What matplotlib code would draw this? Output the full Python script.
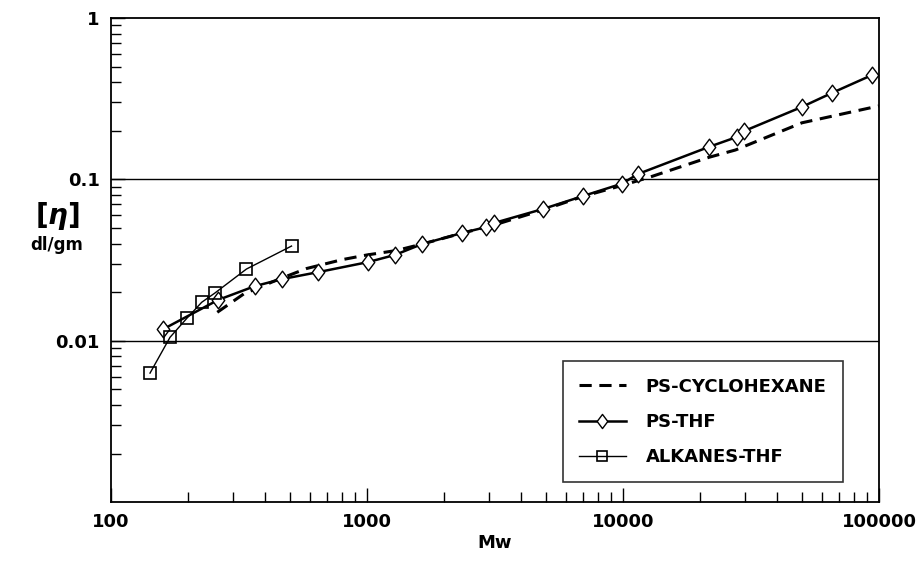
import numpy as np
import matplotlib
matplotlib.use("Agg")
import matplotlib.pyplot as plt
from matplotlib.path import Path

# PS in cyclohexane (theta solvent), smooth curve
ps_chx_mw = [260, 330, 445, 580, 800, 1000, 1300, 1640, 2400, 3000, 5000,
             7000, 10000, 12800, 21700, 27500, 50000, 100000]
ps_chx_eta = [0.0150, 0.0195, 0.0238, 0.0280, 0.0318, 0.0340, 0.0362, 0.0397,
              0.0468, 0.0510, 0.0655, 0.0785, 0.092, 0.1035, 0.137, 0.152,
              0.224, 0.285]

# PS in THF
ps_thf_mw = [160, 262, 365, 466, 644, 1009, 1285, 1640, 2350, 2920, 3130,
             4870, 6980, 9910, 11460, 21700, 27860, 29700, 50000, 65500, 94000]
ps_thf_eta = [0.0118, 0.0179, 0.0218, 0.0241, 0.0266, 0.0307, 0.0340, 0.0397,
              0.0465, 0.0506, 0.0536, 0.0655, 0.0788, 0.0940, 0.108, 0.159,
              0.183, 0.199, 0.281, 0.343, 0.443]

# n-alkanes in THF
alk_mw = [142, 170, 198, 226, 254, 338, 507]
alk_eta = [0.0063, 0.0105, 0.0138, 0.0173, 0.0197, 0.0278, 0.0386]

diamond = Path([(0, 1), (0.75, 0), (0, -1), (-0.75, 0), (0, 1)],
               [Path.MOVETO, Path.LINETO, Path.LINETO, Path.LINETO, Path.CLOSEPOLY])

plt.rcParams['font.family'] = 'DejaVu Sans'
plt.rcParams['font.weight'] = 'bold'

fig = plt.figure(figsize=(9.2, 5.61), dpi=100)
ax = fig.add_axes([0.1207, 0.105, 0.8347, 0.863])

ax.plot(ps_chx_mw, ps_chx_eta, color='black', lw=2.2, ls=(0, (4, 2.5)),
        label='PS-CYCLOHEXANE')
ax.plot(ps_thf_mw, ps_thf_eta, color='black', lw=1.8, marker=diamond,
        markersize=12, markerfacecolor='white', markeredgecolor='black',
        markeredgewidth=1.0, label='PS-THF')
ax.plot(alk_mw, alk_eta, color='black', lw=1.0, marker='s',
        markersize=9, markerfacecolor='none', markeredgecolor='black',
        markeredgewidth=1.2, label='ALKANES-THF')

ax.set_xscale('log')
ax.set_yscale('log')
ax.set_xlim(100, 100000)
ax.set_ylim(0.001, 1)

for v in [0.1, 0.01]:
    ax.axhline(v, color='black', lw=1.0, zorder=0)

ax.set_xticks([100, 1000, 10000, 100000])
ax.set_xticklabels(['100', '1000', '10000', '100000'])
ax.set_yticks([0.01, 0.1, 1])
ax.set_yticklabels(['0.01', '0.1', '1'])
ax.tick_params(which='both', direction='in', top=False, right=False,
               labelsize=13, width=1.0)
ax.tick_params(which='major', length=10, pad=8)
ax.tick_params(which='minor', length=7)
ax.yaxis.set_minor_formatter(matplotlib.ticker.NullFormatter())
ax.xaxis.set_minor_formatter(matplotlib.ticker.NullFormatter())
for lab in ax.get_xticklabels() + ax.get_yticklabels():
    lab.set_fontweight('bold')
for s in ax.spines.values():
    s.set_linewidth(1.3)

ax.set_xlabel('Mw', fontsize=13, fontweight='bold', labelpad=2)

fig.text(0.062, 0.615, r'$[\eta]$', fontsize=20, ha='center', va='center')
fig.text(0.062, 0.563, 'dl/gm', fontsize=12, fontweight='bold',
         ha='center', va='center')

leg = ax.legend(loc='lower right', bbox_to_anchor=(0.953, 0.041),
                prop={'weight': 'bold', 'size': 13}, frameon=True,
                fancybox=False, edgecolor='black', handlelength=2.6,
                labelspacing=0.95, borderpad=0.9, handletextpad=1.1,
                borderaxespad=0, markerscale=0.85)
leg.get_frame().set_linewidth(1.2)

fig.savefig('out.png', dpi=100, facecolor='white')
